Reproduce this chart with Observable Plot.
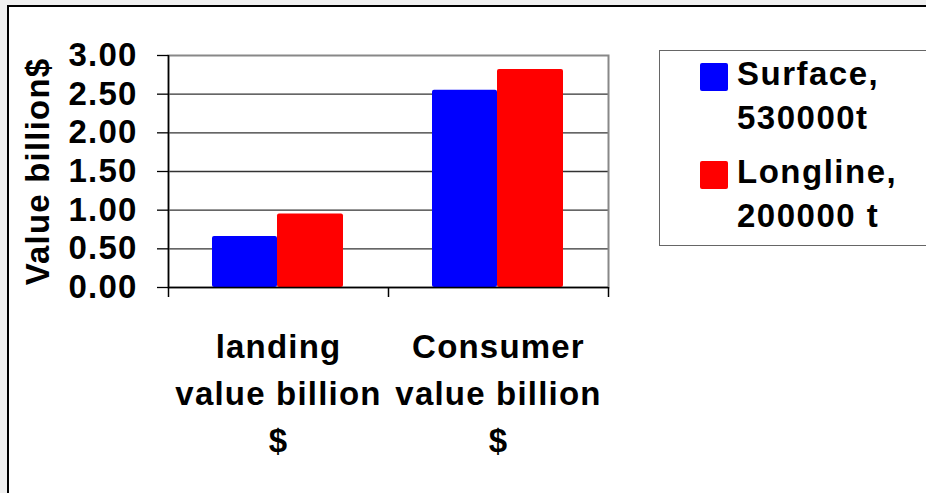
<!DOCTYPE html>
<html>
<head>
<meta charset="utf-8">
<script src="https://cdn.jsdelivr.net/npm/d3@7"></script>
<script src="https://cdn.jsdelivr.net/npm/@observablehq/plot@0.6"></script>
<style>
  html, body { margin: 0; padding: 0; background: #f0f0f0; width: 926px; height: 493px; overflow: hidden; }
  #page { position: absolute; left: 7px; top: 5px; width: 1000px; height: 600px; background: #fff;
          border-left: 2px solid #000; border-top: 2px solid #000; }
  #chart { position: absolute; left: 0; top: 0; }
  #legend { position: absolute; left: 659px; top: 50px; width: 300px; height: 194px;
            border: 1.5px solid #666; background: #fff;
            font-family: "Liberation Sans", Arial, sans-serif; font-weight: bold; font-size: 33px; color: #000;
            letter-spacing: 1.5px; }
  .item { position: absolute; left: 40px; line-height: 44px; }
  .sw { position: absolute; left: 0; top: 11px; width: 28px; height: 28px; border-radius: 2px; }
  .txt { position: absolute; left: 37px; white-space: pre; }
</style>
</head>
<body>
<div id="page"></div>
<div id="chart"></div>
<div id="legend"></div>
<script>
const categories = ["landing value billion $", "Consumer value billion $"];
const categoryLabels = ["landing\nvalue billion\n$", "Consumer\nvalue billion\n$"];
const seriesNames = ["Surface,\n530000t", "Longline,\n200000 t"];
const seriesColors = ["#0000ff", "#ff0000"];
const surface = [0.66, 2.55];
const longline = [0.95, 2.82];
const yTicks = [0, 0.5, 1, 1.5, 2, 2.5, 3];

const surfaceData = categories.map((c, i) => ({category: c, value: surface[i]}));
const longlineData = categories.map((c, i) => ({category: c, value: longline[i]}));

const chart = Plot.plot({
  width: 926,
  height: 493,
  marginLeft: 168,
  marginRight: 318,
  marginTop: 55,
  marginBottom: 206,
  style: {fontFamily: "'Liberation Sans', Arial, sans-serif", fontWeight: "bold", fontSize: "33px", letterSpacing: "1.2px", background: "transparent", overflow: "visible", color: "#000"},
  x: {domain: categories, padding: 0, axis: null},
  y: {domain: [0, 3], axis: null},
  marks: [
    Plot.ruleY(yTicks.slice(1, -1), {stroke: "#333", strokeWidth: 1.3}),
    Plot.frame({stroke: "#888", strokeWidth: 2}),
    Plot.barY(surfaceData, {x: "category", y: "value", fill: seriesColors[0], insetLeft: 44, insetRight: 111, rx: 2}),
    Plot.barY(longlineData, {x: "category", y: "value", fill: seriesColors[1], insetLeft: 109, insetRight: 45, rx: 2}),
    Plot.axisY({ticks: yTicks, tickSize: 11, tickPadding: 20, tickFormat: d => d.toFixed(2),
      stroke: "#000", strokeWidth: 1.3, strokeOpacity: 1, fontSize: 33, fontWeight: "bold",
      label: "Value billion$", labelAnchor: "center", labelOffset: 143, labelArrow: "none"}),
    Plot.ruleY([0], {stroke: "#000", strokeWidth: 1.5}),
    Plot.ruleX([categories[0]], {x: d => d, dx: -110, y1: yTicks[yTicks.length - 1], y2: yTicks[0], insetBottom: -10, stroke: "#000", strokeWidth: 1.5}),
    Plot.ruleX(categories, {x: d => d, dx: 110, y1: yTicks[0], y2: yTicks[0], insetBottom: -10, stroke: "#000", strokeWidth: 1.5}),
    Plot.text(categories, {x: d => d, y: yTicks[0], text: (d, i) => categoryLabels[i], lineAnchor: "top", dy: 37, lineHeight: 1.43, fontSize: 33, fontWeight: "bold", fill: "#000"})
  ]
});
document.getElementById("chart").appendChild(chart);

const legend = document.getElementById("legend");
seriesNames.forEach((name, i) => {
  const item = document.createElement("div");
  item.className = "item";
  item.style.top = (1 + i * 98) + "px";
  const sw = document.createElement("div");
  sw.className = "sw";
  sw.style.background = seriesColors[i];
  const t = document.createElement("div");
  t.className = "txt";
  t.textContent = name;
  item.appendChild(sw);
  item.appendChild(t);
  legend.appendChild(item);
});
</script>
</body>
</html>
